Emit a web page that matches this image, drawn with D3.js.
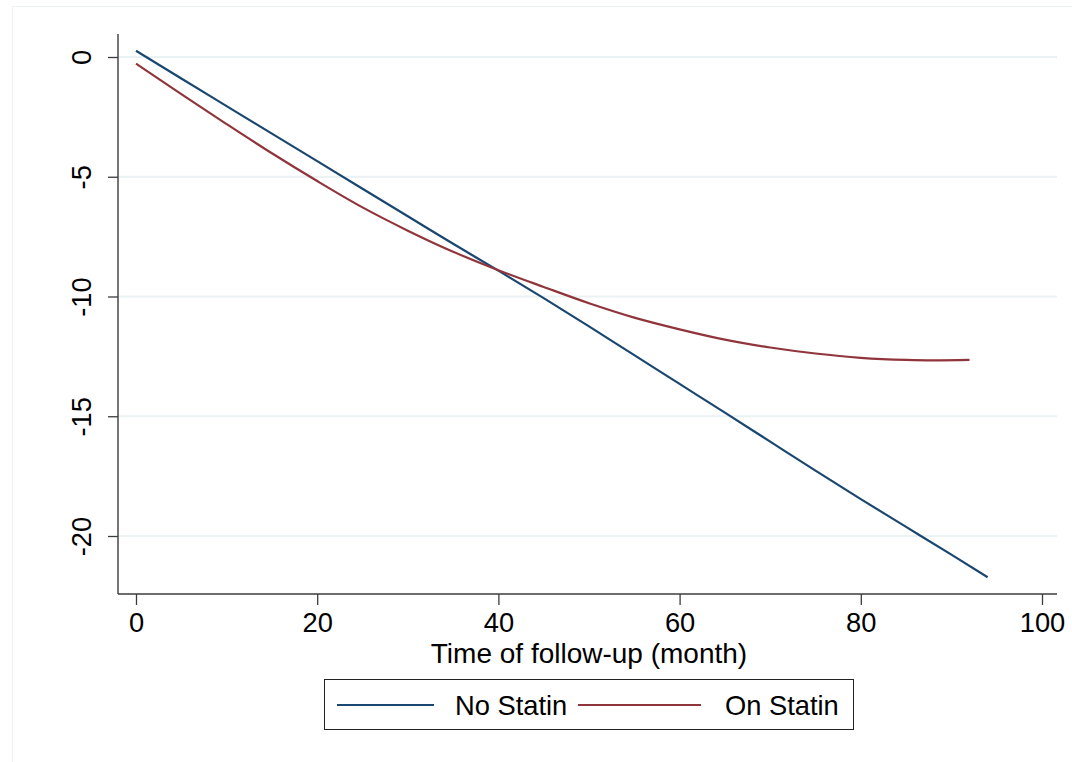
<!DOCTYPE html>
<html>
<head>
<meta charset="utf-8">
<script src="https://cdn.jsdelivr.net/npm/d3@7"></script>
<style>
  html, body { margin: 0; padding: 0; background: #fff; }
  svg { display: block; font-family: "Liberation Sans", Arial, Helvetica, sans-serif; }
</style>
</head>
<body>
<svg id="chart" width="1072" height="762"></svg>
<script>
// Predicted change over follow-up, by statin use
const months = {
  noStatin: [0, 5, 10, 15, 20, 25, 30, 35, 40, 45, 50, 55, 60, 65, 70, 75, 80, 85, 90, 94],
  onStatin: [0, 5, 10, 15, 20, 25, 30, 35, 40, 45, 50, 55, 60, 65, 70, 75, 80, 85, 88, 92]
};
const noStatinValues = [0.26, -0.9, -2.05, -3.2, -4.35, -5.5, -6.65, -7.8, -8.92, -10.07,
  -11.25, -12.45, -13.65, -14.85, -16.06, -17.27, -18.46, -19.62, -20.78, -21.72];
const onStatinValues = [-0.28, -1.55, -2.8, -4.02, -5.18, -6.28, -7.25, -8.13, -8.9, -9.6,
  -10.28, -10.88, -11.37, -11.8, -12.13, -12.38, -12.56, -12.65, -12.67, -12.65];

const xTicks = [0, 20, 40, 60, 80, 100];
const yTicks = [0, -5, -10, -15, -20];
const xTitle = "Time of follow-up (month)";
const seriesNames = ["No Statin", "On Statin"];
const seriesColors = ["#1a476f", "#90353b"];

const series = [
  { name: seriesNames[0], color: seriesColors[0], pts: months.noStatin.map((m, i) => [m, noStatinValues[i]]) },
  { name: seriesNames[1], color: seriesColors[1], pts: months.onStatin.map((m, i) => [m, onStatinValues[i]]) }
];

const svg = d3.select("#chart");
const gridColor = "#eaf2f3";
const axisColor = "#3c3c3c";
const fontSize = 27.3;

// plot region (axis line extents)
const plot = { left: 118, right: 1057, top: 34, bottom: 594 };

const x = d3.scaleLinear().domain([0, 100]).range([136, 1042]);
const y = d3.scaleLinear().domain([0, -20]).range([57, 536]);

// outer graph-region border
svg.append("path")
  .attr("d", `M12.5,${762}V6.5H1072`)
  .attr("fill", "none")
  .attr("stroke", "#edf3f4")
  .attr("stroke-width", 1);

// horizontal gridlines
svg.append("g").selectAll("line").data(yTicks).join("line")
  .attr("x1", plot.left).attr("x2", plot.right)
  .attr("y1", d => y(d)).attr("y2", d => y(d))
  .attr("stroke", gridColor).attr("stroke-width", 2);

// x axis
const xAxis = svg.append("g")
  .attr("transform", `translate(0,${plot.bottom})`)
  .call(d3.axisBottom(x).tickValues(xTicks).tickSize(11).tickPadding(8).tickSizeOuter(0));
xAxis.select(".domain").remove();
xAxis.selectAll(".tick line").attr("stroke", axisColor).attr("stroke-width", 1.3);
xAxis.selectAll(".tick text").attr("fill", "#000").attr("font-size", fontSize).attr("font-family", null);
svg.append("line")
  .attr("x1", plot.left).attr("x2", plot.right)
  .attr("y1", plot.bottom).attr("y2", plot.bottom)
  .attr("stroke", axisColor).attr("stroke-width", 1.4);

// y axis with rotated labels
const yAxis = svg.append("g")
  .attr("transform", `translate(${plot.left},0)`)
  .call(d3.axisLeft(y).tickValues(yTicks).tickSize(10).tickSizeOuter(0).tickFormat(d => String(d)));
yAxis.select(".domain").remove();
yAxis.selectAll(".tick line").attr("stroke", axisColor).attr("stroke-width", 1.3);
yAxis.selectAll(".tick text")
  .attr("fill", "#000").attr("font-size", fontSize).attr("font-family", null)
  .attr("x", null).attr("dy", null)
  .attr("text-anchor", "middle")
  .attr("transform", "translate(-27,0) rotate(-90)");
svg.append("line")
  .attr("x1", plot.left).attr("x2", plot.left)
  .attr("y1", plot.top).attr("y2", plot.bottom)
  .attr("stroke", axisColor).attr("stroke-width", 1.4);

// x-axis title
svg.append("text")
  .attr("x", 589).attr("y", 663)
  .attr("text-anchor", "middle")
  .attr("font-size", 28)
  .text(xTitle);

// series lines
const line = d3.line().x(d => x(d[0])).y(d => y(d[1])).curve(d3.curveMonotoneX);
svg.append("g").selectAll("path").data(series).join("path")
  .attr("d", d => line(d.pts))
  .attr("fill", "none")
  .attr("stroke", d => d.color)
  .attr("stroke-width", 2.2)
  .attr("stroke-linejoin", "round");

// legend
const legend = svg.append("g");
legend.append("rect")
  .attr("x", 324.5).attr("y", 679.5).attr("width", 529).attr("height", 50)
  .attr("fill", "#fff").attr("stroke", "#222").attr("stroke-width", 1);
const legendItems = [
  { x1: 337, x2: 434, tx: 455 },
  { x1: 578, x2: 701, tx: 725 }
];
legend.selectAll("g.item").data(series).join("g").attr("class", "item")
  .each(function (d, i) {
    const g = d3.select(this);
    const pos = legendItems[i];
    g.append("line")
      .attr("x1", pos.x1).attr("x2", pos.x2)
      .attr("y1", 705).attr("y2", 705)
      .attr("stroke", d.color).attr("stroke-width", 2.2);
    g.append("text")
      .attr("x", pos.tx).attr("y", 714.5)
      .attr("font-size", fontSize)
      .text(d.name);
  });
</script>
</body>
</html>
